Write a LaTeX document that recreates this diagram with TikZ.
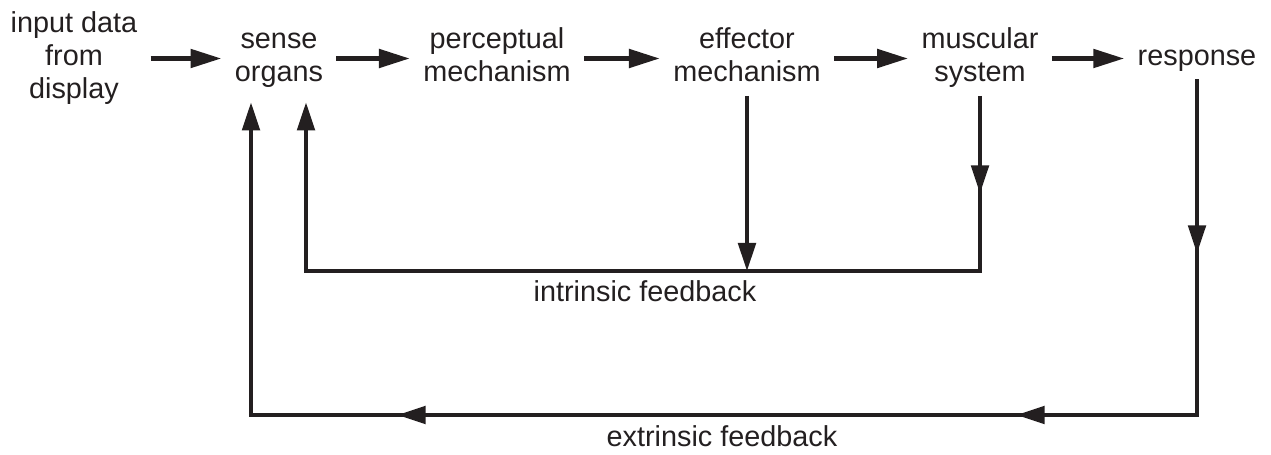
\documentclass[tikz,border=0pt]{standalone}
\usepackage{fontspec}
\setmainfont{Liberation Sans}
\usetikzlibrary{arrows.meta,decorations.markings}
\definecolor{ink}{HTML}{231F20}

\begin{document}
\begin{tikzpicture}[
  box/.style={align=center, inner xsep=0.26cm, inner ysep=0.08cm, text=ink,
    font=\fontsize{16.4}{18.8}\selectfont},
  flow/.style={draw=ink, line width=2.8pt, -{Triangle[length=0.62cm,width=0.36cm]}},
  fb/.style={draw=ink, line width=2.1pt, line join=miter},
  tri/.tip={Triangle[length=0.56cm,width=0.35cm]}
]
  \useasboundingbox (0,0) rectangle (25.42,-9.1);

  \node[box] (input)    at (1.48,-1.17)  {\strut input data\\\strut from\\\strut display};
  \node[box] (sense)    at (5.58,-1.17)  {\strut sense\\\strut organs};
  \node[box] (percept)  at (9.94,-1.17)  {\strut perceptual\\\strut mechanism};
  \node[box] (effector) at (14.94,-1.17) {\strut effector\\\strut mechanism};
  \node[box] (muscular) at (19.6,-1.17)  {\strut muscular\\\strut system};
  \node[box] (response) at (23.94,-1.17) {\strut response};

  \draw[flow] (input) -- (sense);
  \draw[flow] (sense) -- (percept);
  \draw[flow] (percept) -- (effector);
  \draw[flow] (effector) -- (muscular);
  \draw[flow] (muscular) -- (response);

  \coordinate (sl) at ([xshift=-0.56cm,yshift=-0.13cm]sense.south);
  \coordinate (sr) at ([xshift=0.54cm,yshift=-0.13cm]sense.south);
  \coordinate (intr) at (0,-5.42);
  \coordinate (extr) at (0,-8.3);

  % intrinsic loop
  \draw[fb,-tri] (effector.south) -- (effector.south |- intr);
  \draw[fb,-tri,decoration={markings,mark=at position 1.95cm with {\arrow{tri}}},
    postaction=decorate]
    (muscular.south) -- (muscular.south |- intr) -- (sr |- intr) -- (sr);
  \node[box] (intlabel) at (12.9,-5.9) {\strut intrinsic feedback};

  % extrinsic loop
  \draw[fb,-tri,decoration={markings,
      mark=at position 3.48cm with {\arrow{tri}},
      mark=at position 10.32cm with {\arrow{tri}},
      mark=at position 22.7cm with {\arrow{tri}}},
    postaction=decorate]
    (response.south) -- (response.south |- extr) -- (sl |- extr) -- (sl);
  \node[box] (extlabel) at (14.44,-8.8) {\strut extrinsic feedback};

\end{tikzpicture}
\end{document}
